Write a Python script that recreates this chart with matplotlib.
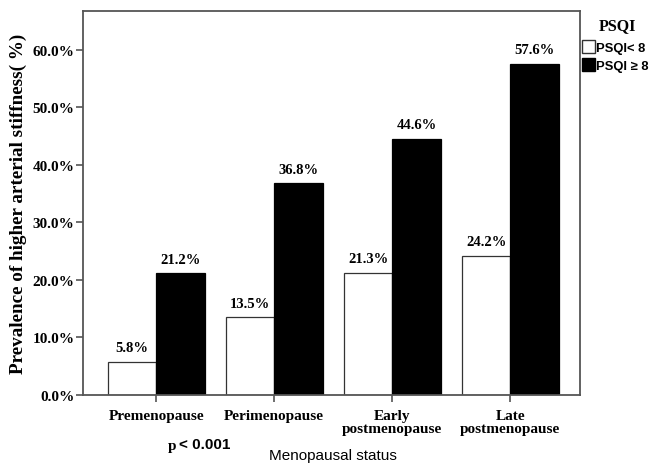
import numpy as np
import matplotlib.pyplot as plt
from matplotlib.patches import Patch

# DATA
categories = ['Premenopause', 'Perimenopause', 'Early\npostmenopause', 'Late\npostmenopause']
psqi_low = [5.8, 13.5, 21.3, 24.2]    # PSQI < 8
psqi_high = [21.2, 36.8, 44.6, 57.6]  # PSQI >= 8
y_ticks = [0, 10, 20, 30, 40, 50, 60]

serif = 'Liberation Serif'
sans = 'Liberation Sans'
frame_col = '#555555'

fig = plt.figure(figsize=(6.51, 4.64), dpi=100)
ax = fig.add_axes([0.1275, 0.1466, 0.7635, 0.8265])

x = np.arange(len(categories))
w = 0.41
ax.bar(x - w / 2, psqi_low, w, color='white', edgecolor='#333333', linewidth=0.9)
ax.bar(x + w / 2, psqi_high, w, color='black', edgecolor='black', linewidth=0.9)

# value labels above the bars
for xi, v in zip(x - w / 2, psqi_low):
    ax.text(xi, v + 1.3, f'{v:.1f}%', ha='center', va='bottom',
            fontsize=10.5, fontweight='bold', family=serif)
for xi, v in zip(x + w / 2, psqi_high):
    ax.text(xi, v + 1.3, f'{v:.1f}%', ha='center', va='bottom',
            fontsize=10.5, fontweight='bold', family=serif)

ax.set_xlim(-0.62, len(categories) - 1 + 0.59)
ax.set_ylim(0, 66.7)
ax.set_yticks(y_ticks)
ax.set_yticklabels([f'{t:.1f}%' for t in y_ticks], family=serif,
                   fontweight='bold', fontsize=11)
ax.set_xticks(x)
ax.set_xticklabels(categories, family=serif, fontsize=11, fontweight='bold',
                   linespacing=1.05)

for s in ax.spines.values():
    s.set_color(frame_col)
    s.set_linewidth(1.3)
ax.tick_params(axis='both', direction='out', length=5, width=1.2, color=frame_col)
ax.tick_params(axis='y', pad=1)
ax.tick_params(axis='x', pad=5)

ax.set_ylabel('Prevalence of higher arterial stiffness( %)', family=serif,
              fontweight='bold', fontsize=13.8, labelpad=4)
fig.text(0.512, 0.017, 'Menopausal status', ha='center', va='center',
         family=sans, fontsize=11)
fig.text(0.257, 0.038, 'p', ha='left', va='center', family=serif,
         fontsize=11, fontweight='bold')
fig.text(0.275, 0.040, '< 0.001', ha='left', va='center', family=sans,
         fontsize=11, fontweight='bold')

# legend
fig.text(0.948, 0.944, 'PSQI', ha='center', va='center', family=serif,
         fontsize=11.5, fontweight='bold')
handles = [Patch(facecolor='white', edgecolor='#333333', label='PSQI< 8'),
           Patch(facecolor='black', edgecolor='black', label='PSQI \u2265 8')]
ax.legend(handles=handles, loc='upper left', bbox_to_anchor=(1.004, 0.925),
          frameon=False, handlelength=1.0, handleheight=1.15,
          handletextpad=0.05, labelspacing=0.3, borderaxespad=0.0,
          borderpad=0.0,
          prop={'family': sans, 'weight': 'bold', 'size': 9.4})

fig.savefig('out.png', dpi=100)
